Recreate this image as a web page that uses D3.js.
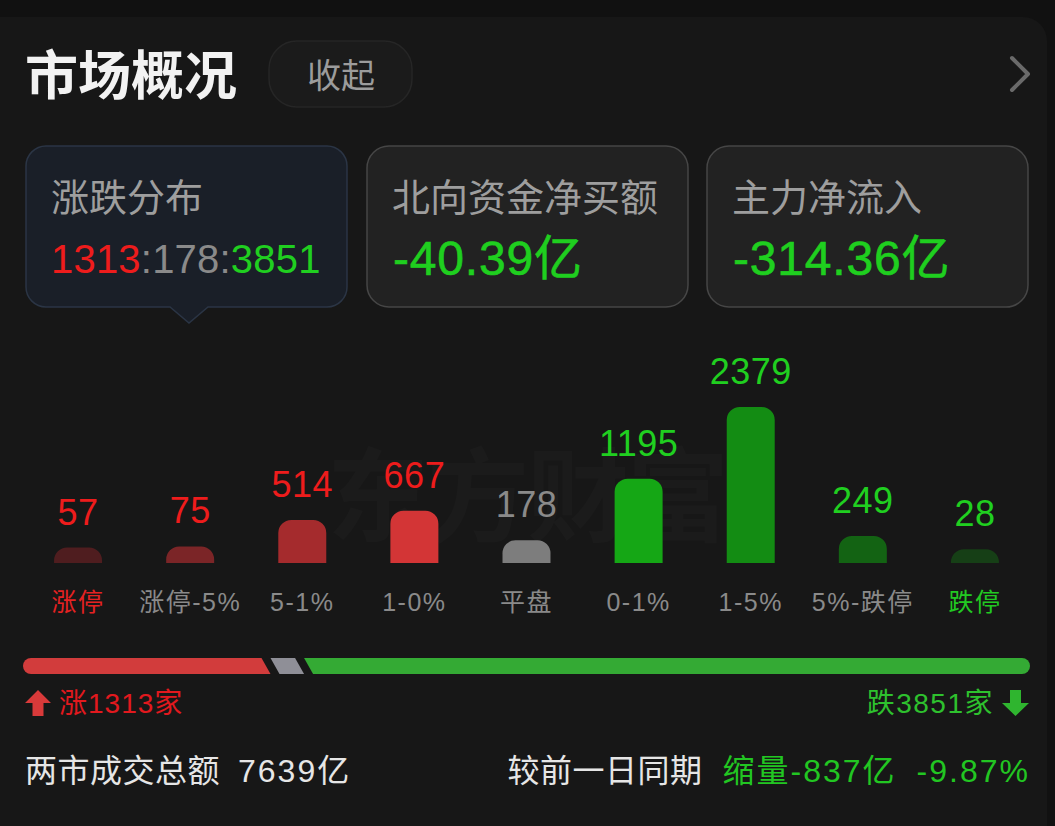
<!DOCTYPE html>
<html><head><meta charset="utf-8">
<script src="https://cdn.jsdelivr.net/npm/d3@7"></script>
<style>
html,body{margin:0;padding:0;background:#111111;}
svg{display:block;}
</style></head>
<body>
<svg id="chart" width="1055" height="826"></svg>
<script>
// ---------- data ----------
const categories = ["涨停","涨停-5%","5-1%","1-0%","平盘","0-1%","1-5%","5%-跌停","跌停"];
const counts     = [57, 75, 514, 667, 178, 1195, 2379, 249, 28];
const barColors  = ["#4f1d1f","#7b2527","#a52b2d","#d33536","#7d7d7d","#15a715","#138c13","#136313","#163f16"];
const valueColors= ["#ee1c1c","#ee1c1c","#ee1c1c","#ee1c1c","#8a8a8a","#20cf20","#20cf20","#20cf20","#20cf20"];
const labelColors= ["#e52222","#8a8a8a","#8a8a8a","#8a8a8a","#8a8a8a","#8a8a8a","#8a8a8a","#8a8a8a","#22c922"];
const breadthLabels = ["涨","平","跌"];
const breadthCounts = [1313, 178, 3851];
const breadthColors = ["#d23c3c","#8f8f97","#34aa34"];
const cardTitles = ["涨跌分布","北向资金净买额","主力净流入"];
const cardValues = ["", "-40.39亿", "-314.36亿"];
const headerTitle = "市场概况";
const collapseLabel = "收起";
const turnoverLabel = "两市成交总额";
const turnoverValue = "7639亿";
const compareLabel = "较前一日同期";
const compareChange = "缩量-837亿";
const comparePct = "-9.87%";
const watermark = "东方财富";

const FONT = "'Liberation Sans','Noto Sans CJK SC',sans-serif";
const svg = d3.select("#chart").style("font-family", FONT);

// ---------- background ----------
svg.append("rect").attr("x",0).attr("y",0).attr("width",1055).attr("height",826).attr("fill","#111111");
svg.append("rect").attr("x",-30).attr("y",17).attr("width",1077).attr("height",860).attr("rx",24).attr("fill","#171717");

// ---------- header ----------
svg.append("text").attr("x",25).attr("y",95).attr("font-size",53).attr("font-weight",600)
  .attr("fill","#f2f2f2").text(headerTitle);
svg.append("rect").attr("x",269).attr("y",41).attr("width",143).attr("height",66).attr("rx",28)
  .attr("fill","#1b1b1b").attr("stroke","#262626").attr("stroke-width",1.5);
svg.append("text").attr("x",341).attr("y",88).attr("text-anchor","middle").attr("font-size",34)
  .attr("fill","#9c9c9c").text(collapseLabel);
svg.append("path").attr("d","M1012,58 L1028,74 L1012,90").attr("fill","none")
  .attr("stroke","#6a6a6a").attr("stroke-width",4).attr("stroke-linecap","round").attr("stroke-linejoin","round");

// ---------- cards ----------
const cardX = [26, 367, 707];
const cardW = 321;
cardX.forEach((x,i)=>{
  if(i===0){
    const y0=146, y1=307, r=20, px=189;
    const p = d3.path();
    p.moveTo(x+r,y0); p.lineTo(x+cardW-r,y0); p.arcTo(x+cardW,y0,x+cardW,y0+r,r);
    p.lineTo(x+cardW,y1-r); p.arcTo(x+cardW,y1,x+cardW-r,y1,r);
    p.lineTo(px+19,y1); p.lineTo(px,y1+16); p.lineTo(px-19,y1);
    p.lineTo(x+r,y1); p.arcTo(x,y1,x,y1-r,r); p.lineTo(x,y0+r); p.arcTo(x,y0,x+r,y0,r); p.closePath();
    svg.append("path").attr("d",p.toString()).attr("fill","#1a1f28").attr("stroke","#2b3545").attr("stroke-width",1.5);
  } else {
    svg.append("rect").attr("x",x).attr("y",146).attr("width",cardW).attr("height",161).attr("rx",22)
      .attr("fill","#222222").attr("stroke","#464646").attr("stroke-width",1.5);
  }
  svg.append("text").attr("x",x+25).attr("y",211).attr("font-size",38).attr("fill","#9e9e9e").text(cardTitles[i]);
  if(i>0){
    svg.append("text").attr("x",x+26).attr("y",275).attr("font-size",48)
      .attr("fill","#1fcf1f").attr("stroke","#1fcf1f").attr("stroke-width",0.6)
      .attr("letter-spacing",0.8).text(cardValues[i]);
  }
});
// ratio text in first card
const ratio = svg.append("text").attr("x",51).attr("y",273).attr("font-size",40).attr("letter-spacing",0.2);
breadthCounts.forEach((c,i)=>{
  if(i>0) ratio.append("tspan").attr("fill","#8a8a8a").text(":");
  ratio.append("tspan").attr("fill",["#ee1c1c","#8a8a8a","#20cf20"][i]).text(c);
});

// ---------- watermark ----------
svg.append("text").attr("x",527).attr("y",534).attr("text-anchor","middle").attr("font-size",102)
  .attr("font-weight",700).attr("fill","#ffffff").attr("fill-opacity",0.02).attr("letter-spacing",-2).text(watermark);

// ---------- bar chart ----------
const baseY = 563;
const x = d3.scaleBand().domain(categories).range([22,1031]).paddingInner(0.572).paddingOuter(0.286);
const y = d3.scaleLinear().domain([0, d3.max(counts)]).range([baseY-12, 407]);
const data = categories.map((c,i)=>({c, v:counts[i], i}));

function topRounded(x0,w,yTop,yBot,r){
  const h = yBot-yTop; r = Math.min(r,h,w/2);
  const p = d3.path();
  p.moveTo(x0,yBot); p.lineTo(x0,yTop+r); p.arcTo(x0,yTop,x0+r,yTop,r);
  p.lineTo(x0+w-r,yTop); p.arcTo(x0+w,yTop,x0+w,yTop+r,r); p.lineTo(x0+w,yBot); p.closePath();
  return p.toString();
}
svg.append("g").selectAll("path").data(data).join("path")
  .attr("d",d=>topRounded(x(d.c), x.bandwidth(), y(d.v), baseY, 13))
  .attr("fill",d=>barColors[d.i]);
svg.append("g").selectAll("text").data(data).join("text")
  .attr("x",d=>x(d.c)+x.bandwidth()/2).attr("y",d=>y(d.v)-23)
  .attr("text-anchor","middle").attr("font-size",36).attr("letter-spacing",0.5)
  .attr("fill",d=>valueColors[d.i]).text(d=>d.v);
svg.append("g").selectAll("text").data(data).join("text")
  .attr("x",d=>x(d.c)+x.bandwidth()/2).attr("y",611)
  .attr("text-anchor","middle").attr("font-size",25).attr("letter-spacing",1.5)
  .attr("fill",d=>labelColors[d.i]).text(d=>d.c);

// ---------- breadth bar ----------
const total = d3.sum(breadthCounts);
const bx = d3.scaleLinear().domain([0,total]).range([23,1030]);
const cum = [0]; breadthCounts.forEach((c,i)=>cum.push(cum[i]+c));
const by0=658, by1=674, sl=4.5, gap=4.5, br=8;
breadthCounts.forEach((c,i)=>{
  const L = bx(cum[i]), R = bx(cum[i+1]);
  const p = d3.path();
  const lTop = L+gap-sl, lBot = L+gap+sl;
  const rTop = R-gap-sl, rBot = R-gap+sl;
  if(i===0){
    p.moveTo(L+br,by0); p.lineTo(rTop,by0); p.lineTo(rBot,by1); p.lineTo(L+br,by1);
    p.arc(L+br,(by0+by1)/2,br,Math.PI/2,3*Math.PI/2); p.closePath();
  } else if(i===2){
    p.moveTo(lTop,by0); p.lineTo(R-br,by0); p.arc(R-br,(by0+by1)/2,br,-Math.PI/2,Math.PI/2);
    p.lineTo(lBot,by1); p.closePath();
  } else {
    p.moveTo(lTop,by0); p.lineTo(rTop,by0); p.lineTo(rBot,by1); p.lineTo(lBot,by1); p.closePath();
  }
  svg.append("path").attr("d",p.toString()).attr("fill",breadthColors[i]);
});
// up arrow + label
svg.append("path").attr("d","M38,690 L51,703 L43.5,703 L43.5,716 L32.5,716 L32.5,703 L25,703 Z").attr("fill","#d93a3a");
svg.append("text").attr("x",59).attr("y",713).attr("font-size",28).attr("letter-spacing",1)
  .attr("fill","#e2191e").text(breadthLabels[0]+breadthCounts[0]+"家");
svg.append("path").attr("d","M1015.5,716 L1029,703 L1021,703 L1021,690 L1010,690 L1010,703 L1002,703 Z").attr("fill","#2fb52f");
svg.append("text").attr("x",994).attr("y",713).attr("text-anchor","end").attr("font-size",28).attr("letter-spacing",1.5)
  .attr("fill","#2ec12e").text(breadthLabels[2]+breadthCounts[2]+"家");

// ---------- bottom row ----------
const bl = svg.append("text").attr("x",25).attr("y",782).attr("font-size",32).attr("fill","#e6e6e6");
bl.append("tspan").attr("letter-spacing",0.5).text(turnoverLabel);
bl.append("tspan").attr("dx",18).attr("letter-spacing",2).text(turnoverValue);
const br2 = svg.append("text").attr("x",1030).attr("y",782).attr("text-anchor","end").attr("font-size",32);
br2.append("tspan").attr("fill","#e6e6e6").attr("letter-spacing",0.5).text(compareLabel);
br2.append("tspan").attr("dx",20).attr("fill","#22c622").attr("letter-spacing",2).text(compareChange);
br2.append("tspan").attr("dx",20).attr("fill","#22c622").attr("letter-spacing",2).text(comparePct);
</script>
</body></html>
